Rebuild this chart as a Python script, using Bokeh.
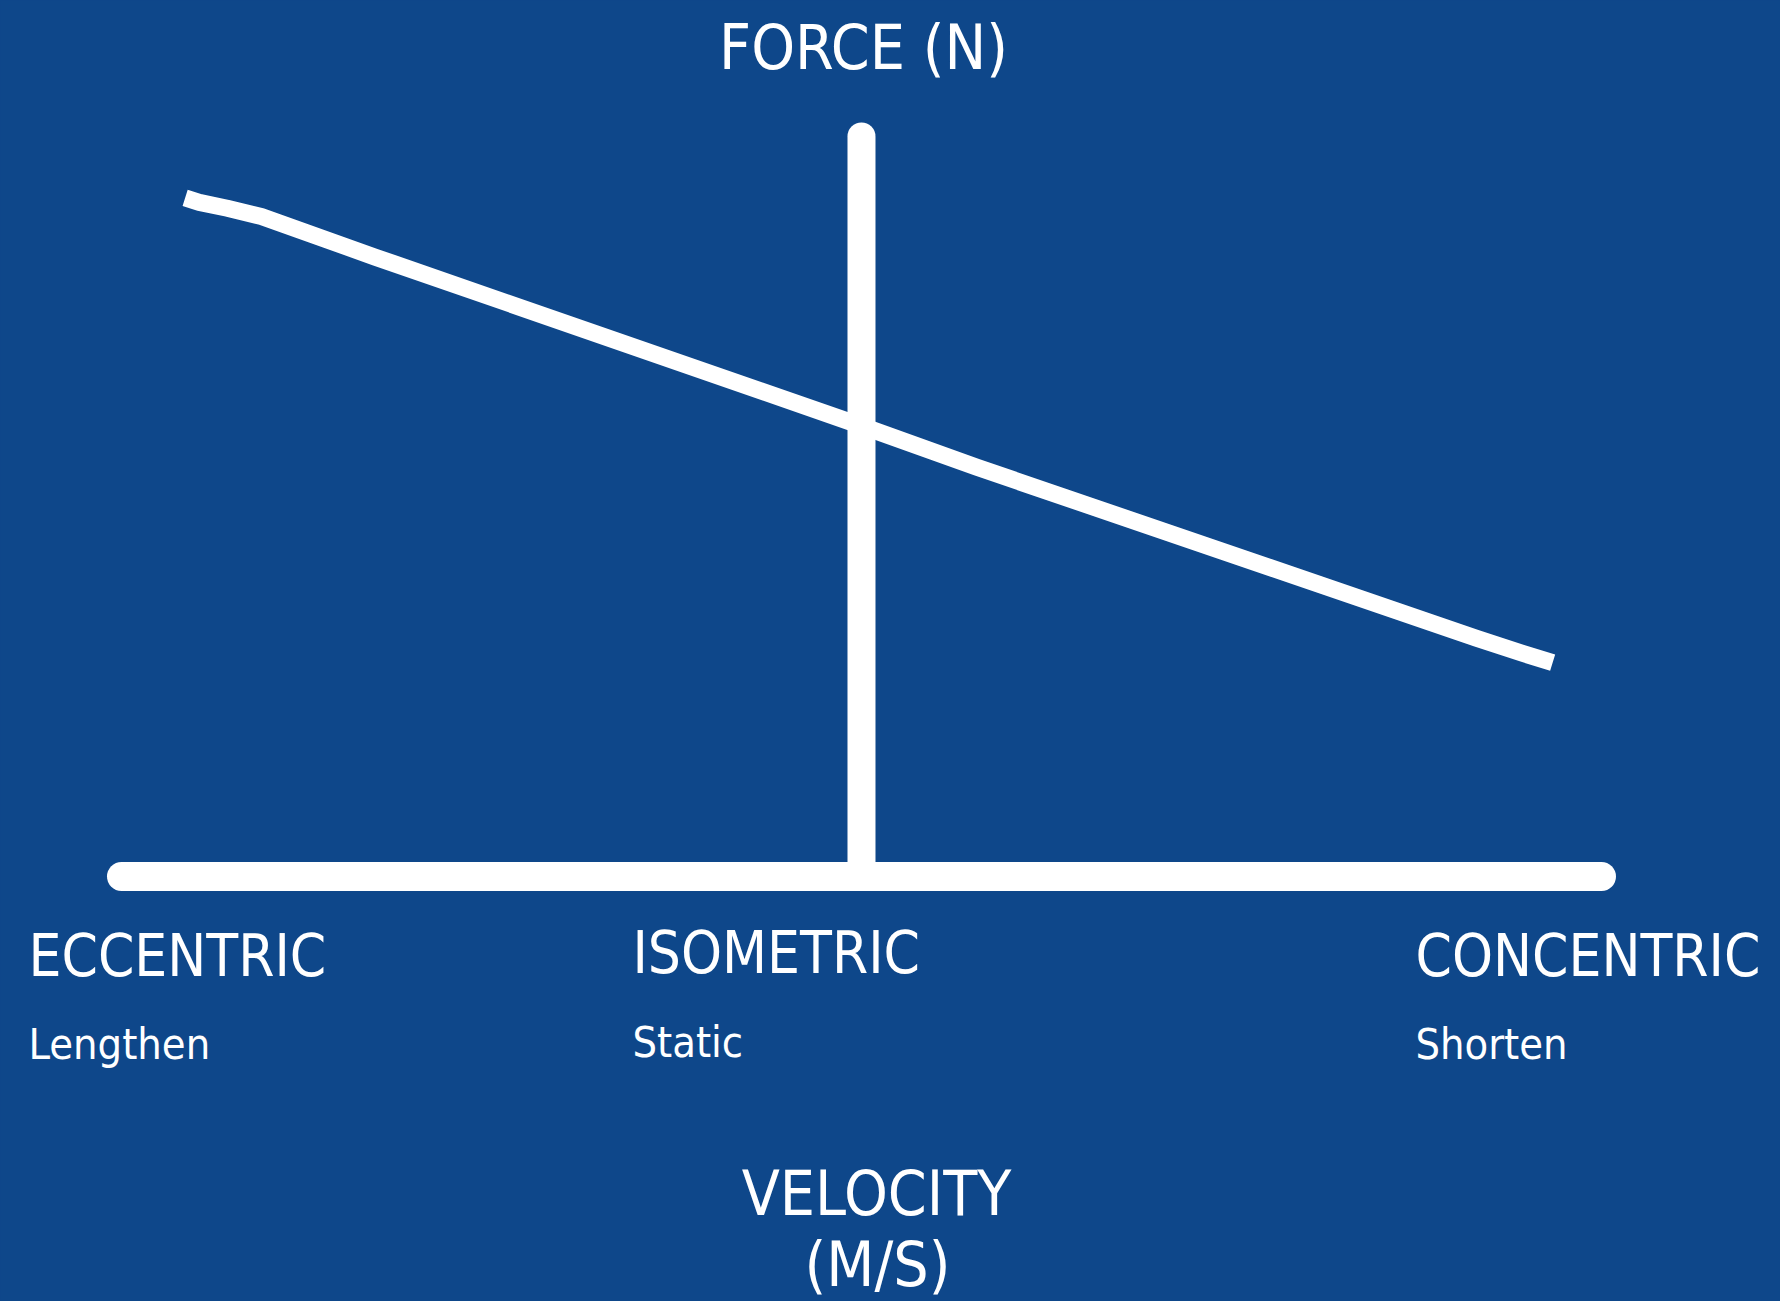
from bokeh.plotting import figure
from bokeh.models import Range1d
from bokeh.embed import file_html
from bokeh.resources import INLINE
from bokeh.core.properties import value

# ---- data ----
velocity = [-0.914, -0.895, -0.857, -0.811, -0.657, 0.0, 0.156, 0.831, 0.892, 0.934]
force = [0.917, 0.911, 0.903, 0.892, 0.837, 0.609, 0.553, 0.322, 0.302, 0.289]

axis_x_v = [-1.0, 1.0]
axis_x_f = [0.0, 0.0]
axis_y_v = [0.0, 0.0]
axis_y_f = [0.0, 1.0]

region_titles = ["ECCENTRIC", "ISOMETRIC", "CONCENTRIC"]
region_subtitles = ["Lengthen", "Static", "Shorten"]
y_title = "FORCE (N)"
x_title = ["VELOCITY", "(M/S)"]

# ---- layout ----
BG = "#0E478A"
FONT = value("DejaVu Sans Condensed, Roboto, sans-serif")
W, H = 1780, 1301

p = figure(width=W, height=H, output_backend="svg", toolbar_location=None,
           x_range=Range1d(-1.1635, 1.2419), y_range=Range1d(-0.5743, 1.1838),
           min_border=0, background_fill_color=BG, border_fill_color=BG)
p.axis.visible = False
p.grid.visible = False
p.outline_line_color = None

p.line(axis_x_v, axis_x_f, line_color="white", line_width=29, line_cap="round")
p.line(axis_y_v, axis_y_f, line_color="white", line_width=28, line_cap="round")
p.line(velocity, force, line_color="white", line_width=17, line_cap="butt", line_join="round")

title_x = [-1.1257, -0.3095, 0.7486]
title_y = [-0.1070, -0.1029, -0.1070]
sub_y = [-0.2270, -0.2230, -0.2270]

p.text(title_x, title_y, text=region_titles, text_color="white", text_font=FONT,
       text_font_size="58px", text_align="left", text_baseline="alphabetic")
p.text(title_x, sub_y, text=region_subtitles, text_color="white", text_font=FONT,
       text_font_size="43px", text_align="left", text_baseline="alphabetic")
p.text([0.0027], [1.1203], text=[y_title], text_color="white", text_font=FONT,
       text_font_size="62px", text_align="center", text_baseline="alphabetic")
p.text([0.0203, 0.0216], [-0.4284, -0.5243], text=x_title, text_color="white", text_font=FONT,
       text_font_size="62px", text_align="center", text_baseline="alphabetic")

html = file_html(p, INLINE)
html = html.replace("</head>", "<style>html,body{background:%s;}</style></head>" % BG, 1)
open("out.html", "w").write(html)
